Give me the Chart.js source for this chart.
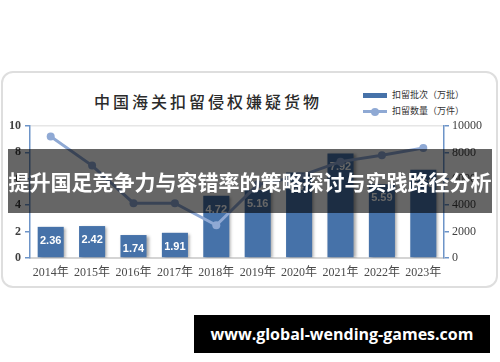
<!DOCTYPE html>
<html>
<head>
<meta charset="utf-8">
<script src="https://cdn.jsdelivr.net/npm/chart.js@4/dist/chart.umd.min.js"></script>
<style>
  html, body { margin: 0; padding: 0; background: #fff; }
  #page { position: relative; width: 500px; height: 362px; overflow: hidden; background: #fff; }
  #card { position: absolute; left: 1px; top: 71px; width: 493px; height: 213px; border: 2px solid #dedede; border-radius: 12px; background: #fff; }
  #title { position: absolute; left: 94px; top: 89px; font: 500 16px "Noto Sans CJK SC", sans-serif; letter-spacing: 3px; color: #2b2b2b; white-space: nowrap; }
  .leg { position: absolute; left: 363px; font: 400 9px "Noto Sans CJK SC", sans-serif; color: #333; white-space: nowrap; }
  .leg i { display: inline-block; position: relative; width: 24px; vertical-align: middle; margin-right: 5px; }
  #chart { position: absolute; left: 0; top: 0; }
  #band { position: absolute; left: 8px; top: 149px; width: 484px; height: 64px; background: rgba(0,0,0,0.6);
          color: #fff; font: 700 21px "Noto Sans CJK SC", sans-serif; line-height: 64px; text-align: center; white-space: nowrap; }
  #site { position: absolute; left: 194px; top: 315px; width: 296px; height: 38px; background: #000; color: #fff;
          font: 700 16px "Open Sans", sans-serif; line-height: 38px; text-align: center; white-space: nowrap; }
</style>
</head>
<body>
<div id="page">
  <div id="card"></div>
  <div id="title">中国海关扣留侵权嫌疑货物</div>
  <div class="leg" style="top:88px"><i style="height:5px;background:#4672a9"></i>扣留批次（万批）</div>
  <div class="leg" style="top:104px"><i style="height:3px;background:#8fa9d4"><b style="position:absolute;left:8px;top:-2.5px;width:8px;height:8px;border-radius:50%;background:#8fa9d4"></b></i>扣留数量（万件）</div>
  <canvas id="chart" width="500" height="362"></canvas>
  <div id="band">提升国足竞争力与容错率的策略探讨与实践路径分析</div>
  <div id="site">www.global-wending-games.com</div>
</div>
<script>
// 扣留批次（万批）与扣留数量（万件）
const years    = ['2014年', '2015年', '2016年', '2017年', '2018年', '2019年', '2020年', '2021年', '2022年', '2023年'];
const batches  = [2.36, 2.42, 1.74, 1.91, 4.72, 5.16, 6.47, 7.92, 5.59, 6.68];
const quantity = [9200, 7000, 4150, 4150, 2480, 5560, 6180, 7300, 7780, 8330];

const BAR_BLUE  = '#4672a9';
const LINE_BLUE = '#8fa9d4';
const AXIS_BLUE = '#6d94c8';

// 柱子阴影 + 柱内数值
const barDecor = {
  id: 'barDecor',
  beforeDatasetDraw(chart, args) {
    if (args.index !== 0) return;
    const c = chart.ctx;
    c.save();
    c.shadowColor = 'rgba(0,0,0,0.35)';
    c.shadowOffsetX = 2;
    c.shadowOffsetY = 1;
    c.shadowBlur = 3;
  },
  afterDatasetDraw(chart, args) {
    if (args.index !== 0) return;
    const c = chart.ctx;
    c.restore();
    c.save();
    c.fillStyle = '#fff';
    c.font = 'bold 11px "Liberation Sans", Arial, sans-serif';
    c.textAlign = 'center';
    c.textBaseline = 'middle';
    args.meta.data.forEach((bar, i) => {
      c.fillText(batches[i].toFixed(2), bar.x, bar.y + 14);
    });
    c.restore();
  },
};

new Chart(document.getElementById('chart'), {
  data: {
    labels: years,
    datasets: [
      { type: 'bar', label: '扣留批次（万批）', data: batches, yAxisID: 'y', backgroundColor: BAR_BLUE,
        categoryPercentage: 1, barPercentage: 0.63, order: 2 },
      { type: 'line', label: '扣留数量（万件）', data: quantity, yAxisID: 'y1', borderColor: LINE_BLUE, backgroundColor: LINE_BLUE,
        borderWidth: 3, pointRadius: 4, pointBorderWidth: 0, tension: 0, order: 1 },
    ],
  },
  options: {
    responsive: false,
    animation: false,
    events: [],
    layout: { padding: { top: 126, bottom: 70, left: 0, right: 0 } },
    plugins: { legend: { display: false }, tooltip: { enabled: false } },
    scales: {
      x: {
        grid: { display: false, drawTicks: false },
        border: { color: '#d4d4d4', width: 2 },
        ticks: { padding: 8, minRotation: 0, maxRotation: 0, autoSkip: false, color: '#4a4a4a',
                 font: { family: '"Liberation Serif", "Noto Sans CJK SC", serif', size: 12 } },
        afterFit: s => { s.height = 34; },
      },
      y: {
        position: 'left', min: 0, max: 10,
        ticks: { stepSize: 2, padding: 4, color: '#404040', font: { family: '"Liberation Serif", serif', size: 12, weight: 'bold' } },
        grid: { color: ctx => ctx.tick && ctx.tick.value === 10 ? '#e6e6e6' : 'transparent', tickColor: AXIS_BLUE, tickLength: 5, lineWidth: 1.5 },
        border: { color: AXIS_BLUE, width: 1.5 },
        afterFit: s => { s.width = 30; },
      },
      y1: {
        position: 'right', min: 0, max: 10000,
        ticks: { stepSize: 2000, padding: 3, color: '#404040', callback: v => String(v),
                 font: { family: '"Liberation Serif", serif', size: 12 } },
        grid: { drawOnChartArea: false, tickColor: AXIS_BLUE, tickLength: 5, lineWidth: 1.5 },
        border: { color: AXIS_BLUE, width: 1.5 },
        afterFit: s => { s.width = 56; },
      },
    },
  },
  plugins: [barDecor],
});
</script>
</body>
</html>
